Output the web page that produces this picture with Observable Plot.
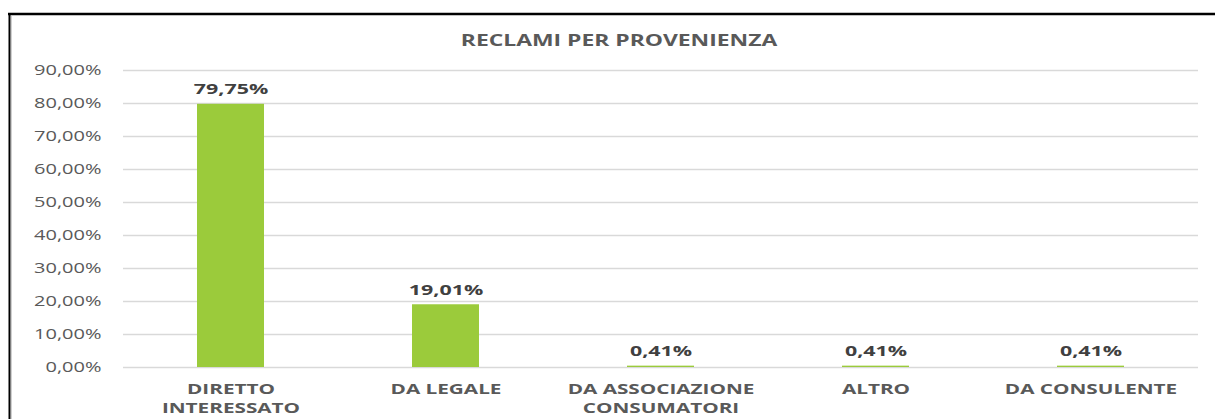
<!DOCTYPE html>
<html>
<head>
<meta charset="utf-8">
<script src="https://cdn.jsdelivr.net/npm/d3@7"></script>
<script src="https://cdn.jsdelivr.net/npm/@observablehq/plot@0.6"></script>
<style>
  html, body { margin: 0; padding: 0; background: #fff; }
  #chart svg { display: block; }
</style>
</head>
<body>
<div id="chart"></div>
<script>
const title = "RECLAMI PER PROVENIENZA";
const categories = ["DIRETTO INTERESSATO", "DA LEGALE", "DA ASSOCIAZIONE CONSUMATORI", "ALTRO", "DA CONSULENTE"];
const categoryLabels = ["DIRETTO\nINTERESSATO", "DA LEGALE", "DA ASSOCIAZIONE\nCONSUMATORI", "ALTRO", "DA CONSULENTE"];
const values = [0.7975, 0.1901, 0.0041, 0.0041, 0.0041];
const yTicks = [0, 0.1, 0.2, 0.3, 0.4, 0.5, 0.6, 0.7, 0.8, 0.9];

const data = categories.map((c, i) => ({category: c, label: categoryLabels[i], value: values[i]}));
const pct = v => (v * 100).toFixed(2).replace(".", ",") + "%";
const labelOf = Object.fromEntries(categories.map((c, i) => [c, categoryLabels[i]]));

const font = "'Open Sans', 'DejaVu Sans', sans-serif";
const stretch = 1.43; // the reference text is horizontally stretched

const plot = Plot.plot({
  width: 1215,
  height: 419,
  marginLeft: 123,
  marginRight: 17,
  marginTop: 70,
  marginBottom: 52,
  style: {fontFamily: font, background: "#fff", overflow: "visible"},
  x: {domain: categories, paddingInner: 0.69, paddingOuter: 0.345, label: null},
  y: {domain: [0, 0.9], label: null},
  marks: [
    Plot.ruleY(yTicks, {stroke: "#d9d9d9", strokeWidth: 1.5}),
    Plot.barY(data, {x: "category", y: "value", fill: "#9bcb3b"}),
    Plot.axisY({ticks: yTicks, tickSize: 0, tickPadding: 22, tickFormat: pct, fontSize: 14, fill: "#595959", fontFamily: font}),
    Plot.axisX({tickSize: 0, tickPadding: 13, tickFormat: d => labelOf[d], fontSize: 14.5, fontWeight: "bold", fill: "#595959", lineHeight: 1.32, fontFamily: font}),
    Plot.text(data, {x: "category", y: "value", text: d => pct(d.value), dy: -15, fontSize: 15, fontWeight: "bold", fill: "#404040", fontFamily: font}),
    Plot.text([title], {frameAnchor: "top", lineAnchor: "middle", dx: -42, dy: -30, fontSize: 16, fontWeight: "bold", fill: "#595959", fontFamily: font})
  ]
});

const svg = d3.select(plot);
svg.selectAll("text").each(function() {
  const t = this.getAttribute("transform") || "";
  this.setAttribute("transform", `${t} scale(${stretch},1)`);
});
svg.append("line").attr("x1", 8).attr("x2", 1215).attr("y1", 14).attr("y2", 14).attr("stroke", "#000").attr("stroke-width", 2.5);
svg.append("line").attr("x1", 9.5).attr("x2", 9.5).attr("y1", 13).attr("y2", 419).attr("stroke", "#000").attr("stroke-width", 2);
svg.append("line").attr("x1", 11.5).attr("x2", 11.5).attr("y1", 16).attr("y2", 419).attr("stroke", "#d0d0d0").attr("stroke-width", 1);

document.getElementById("chart").appendChild(plot);
</script>
</body>
</html>
